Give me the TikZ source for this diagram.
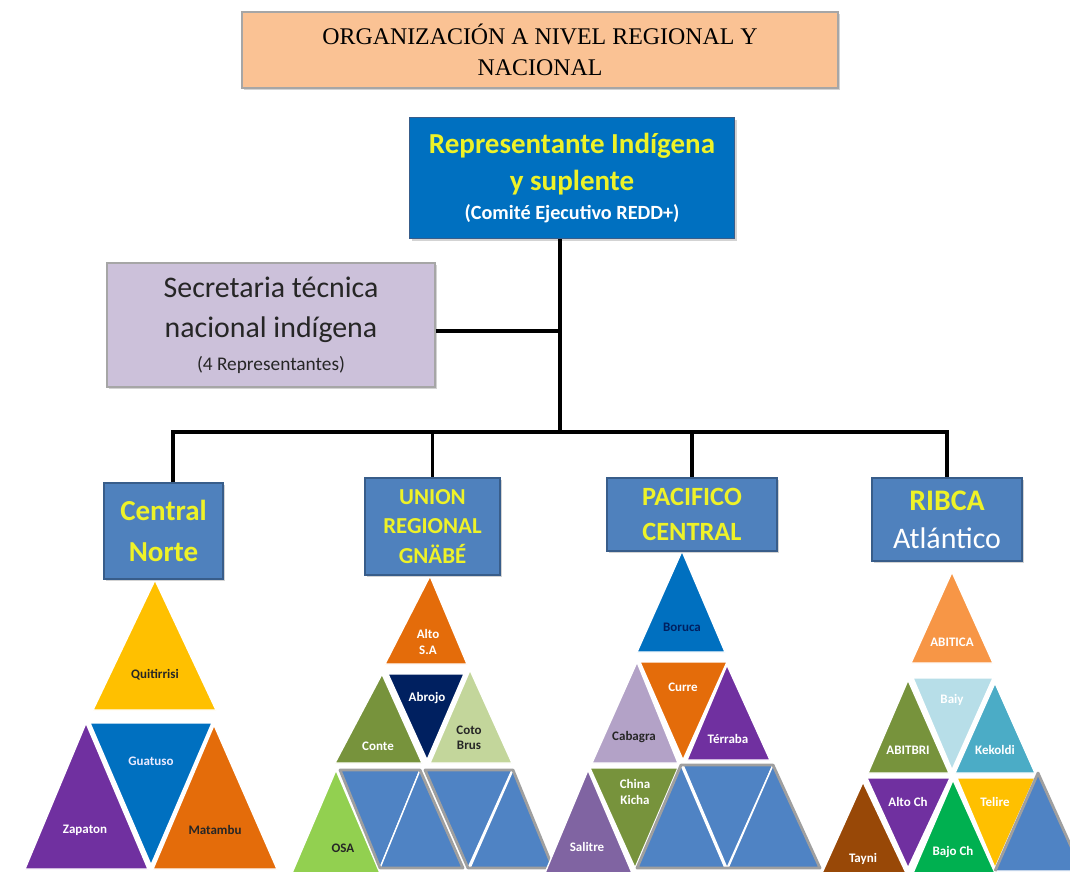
\documentclass[tikz,border=0pt]{standalone}
\usepackage{fontspec}
\setmainfont{Liberation Serif}
\setsansfont{Carlito}
\usepackage{tikz}
\usetikzlibrary{positioning}
\usetikzlibrary{shadows}
\definecolor{peach}{RGB}{250,194,148}
\definecolor{repblue}{RGB}{0,112,192}
\definecolor{lilac}{RGB}{204,193,218}
\definecolor{regblue}{RGB}{79,129,189}
\definecolor{regedge}{RGB}{56,93,138}
\definecolor{txtyellow}{RGB}{238,242,40}
\definecolor{cgold}{RGB}{255,192,0}
\definecolor{cpurple}{RGB}{112,48,160}
\definecolor{corange}{RGB}{228,108,10}
\definecolor{colive}{RGB}{119,147,60}
\definecolor{cnavy}{RGB}{0,32,96}
\definecolor{cpale}{RGB}{195,214,155}
\definecolor{clime}{RGB}{146,208,80}
\definecolor{clav}{RGB}{179,162,199}
\definecolor{cviolet}{RGB}{128,100,162}
\definecolor{capricot}{RGB}{247,150,70}
\definecolor{cice}{RGB}{183,222,232}
\definecolor{cteal}{RGB}{75,172,198}
\definecolor{cbrown}{RGB}{152,72,7}
\definecolor{cgreen}{RGB}{0,176,80}
\definecolor{ghostblue}{RGB}{79,131,196}
\definecolor{darktext}{RGB}{38,38,38}

\tikzset{
  box/.style={rectangle, align=center, inner sep=0pt, line width=0.8pt,
              drop shadow={opacity=0.35, shadow xshift=1.2pt, shadow yshift=-1.2pt}},
  region/.style={box, fill=regblue, draw=regedge, font=\sffamily\bfseries,
                 text=txtyellow},
  conn/.style={draw=black, line width=2.2pt},
  tri/.style={draw=white, line width=0.8pt, line join=round},
  bevel/.style={draw=gray!75, line width=1.6pt, line join=round},
  lbl/.style={font=\sffamily\bfseries\fontsize{7.4}{8.8}\selectfont,
              align=center, inner sep=0pt, text=white},
  dark/.style={text=darktext}
}
\newcommand{\tri}[4]{\filldraw[tri, fill=#1] (#2) -- (#3) -- (#4) -- cycle;}

\begin{document}
\begin{tikzpicture}[x=0.02cm, y=-0.02cm]
  \useasboundingbox (0,0) rectangle (1070,871);
  \clip (0,0) rectangle (1070,871);

  % Central Norte
  \tri{cgold}{155,580}{93,710}{216,710}
  \tri{cpurple}{86,723}{25,869}{148,869}
  \tri{repblue}{90,723}{212,723}{151,865}
  \tri{corange}{214,725}{153,869}{277,869}
  \node[lbl, dark] (quit) at (155,675) {Quitirrisi};
  \node[lbl] (zap) at (85,830) {Zapaton};
  \node[lbl, text=blue!8] (gua) at (151,761) {Guatuso};
  \node[lbl, dark] (mat) at (215,830) {Matambu};

  % Union Regional Gnabe
  \tri{corange}{430,576}{385,664}{467,664}
  \tri{colive}{382,674}{335,763}{422,763}
  \tri{cnavy}{388,674}{464,674}{427,760}
  \tri{cpale}{470,670}{430,763}{512,763}
  \tri{clime}{336,770}{292,873}{380,873}
  \tri{ghostblue}{340,770}{420,770}{380,868}
  \tri{ghostblue}{420,770}{380,868}{463,868}
  \tri{ghostblue}{425,770}{512,770}{468,868}
  \tri{ghostblue}{513,770}{470,868}{553,868}
  \draw[bevel] (340,770) -- (420,770) -- (463,868) -- (380,868) -- cycle;
  \draw[bevel] (425,770) -- (513,770) -- (553,868) -- (468,868) -- cycle;
  \node[lbl] (alto) at (428,642) {Alto\\S.A};
  \node[lbl] (conte) at (378,746) {Conte};
  \node[lbl] (abrojo) at (427,698) {Abrojo};
  \node[lbl, dark] (coto) at (469,738) {Coto\\Brus};
  \node[lbl, dark] (osa) at (343,848) {OSA};

  % Pacifico Central
  \tri{repblue}{682,551}{637,652}{725,652}
  \tri{clav}{637,662}{592,763}{678,763}
  \tri{corange}{640,662}{727,662}{683,760}
  \tri{cpurple}{727,665}{687,760}{770,760}
  \tri{cviolet}{588,770}{545,873}{632,873}
  \tri{colive}{590,768}{678,768}{635,868}
  \tri{ghostblue}{681,765}{637,868}{725,868}
  \tri{ghostblue}{683,765}{773,765}{727,868}
  \tri{ghostblue}{773,765}{728,868}{820,868}
  \draw[bevel] (681,765) -- (773,765) -- (820,868) -- (637,868) -- cycle;
  \node[lbl, text=cnavy] (boruca) at (682,627) {Boruca};
  \node[lbl, dark] (cabagra) at (634,737) {Cabagra};
  \node[lbl] (curre) at (683,687) {Curre};
  \node[lbl] (terraba) at (728,739) {Térraba};
  \node[lbl] (salitre) at (587,847) {Salitre};
  \node[lbl] (china) at (635,792) {China\\Kicha};

  % RIBCA Atlantico
  \tri{capricot}{952,572}{911,663}{993,663}
  \tri{colive}{908,680}{868,773}{949,773}
  \tri{cice}{913,678}{993,678}{952,770}
  \tri{cteal}{995,683}{955,773}{1035,773}
  \tri{cbrown}{863,782}{822,873}{906,873}
  \tri{cpurple}{867,778}{950,778}{908,868}
  \tri{cgreen}{953,780}{913,873}{995,873}
  \tri{cgold}{957,778}{1035,778}{995,868}
  \tri{ghostblue}{1038,773}{995,871}{1082,871}
  \draw[bevel] (995,871) -- (1038,773) -- (1082,871);
  \node[lbl] (abitica) at (952,642) {ABITICA};
  \node[lbl] (abitbri) at (908,750) {ABITBRI};
  \node[lbl] (baiy) at (952,700) {Baiy};
  \node[lbl] (kekoldi) at (995,750) {Kekoldi};
  \node[lbl] (tayni) at (863,859) {Tayni};
  \node[lbl] (altoch) at (908,802) {Alto Ch};
  \node[lbl] (bajoch) at (953,852) {Bajo Ch};
  \node[lbl] (telire) at (995,802) {Telire};

  % boxes
  \node[box, fill=peach, draw=gray!70, minimum width=11.92cm, minimum height=1.52cm,
        font=\fontsize{13.6}{17.6}\selectfont] (title) at (540,50)
        {ORGANIZACIÓN A NIVEL REGIONAL Y\\NACIONAL};
  \node[box, fill=repblue, draw=regedge, minimum width=6.5cm, minimum height=2.42cm,
        font=\sffamily\bfseries\fontsize{16.5}{21.5}\selectfont, text=txtyellow] (rep) at (572,178)
        {Representante Indígena\\y suplente\\[-5pt]
         {\fontsize{11.5}{14}\selectfont\color{white}(Comité Ejecutivo REDD+)}};
  \node[box, fill=lilac, draw=gray!70, minimum width=6.56cm, minimum height=2.48cm,
        font=\sffamily\fontsize{17}{22.8}\selectfont, text=darktext] (sec) at (271,325)
        {Secretaria técnica\\nacional indígena\\[-4pt]
         {\fontsize{11}{13}\selectfont(4 Representantes)}};
  \node[region, minimum width=2.38cm, minimum height=1.92cm,
        font=\sffamily\bfseries\fontsize{16.5}{23}\selectfont] (cn) at (163.5,531)
        {Central\\Norte};
  \node[region, minimum width=2.7cm, minimum height=1.94cm,
        font=\sffamily\bfseries\fontsize{13}{17}\selectfont] (urg) at (432.5,526.5)
        {UNION\\REGIONAL\\GNÄBÉ};
  \node[region, minimum width=3.4cm, minimum height=1.46cm,
        font=\sffamily\bfseries\fontsize{15}{20}\selectfont] (pc) at (692,514.5)
        {PACIFICO\\CENTRAL};
  \node[region, minimum width=3cm, minimum height=1.66cm,
        font=\sffamily\fontsize{17}{21.6}\selectfont] (rb) at (947,519.5)
        {{\bfseries RIBCA}\\{\color{white}Atlántico}};

  % connectors
  \coordinate (hub) at (560,331);
  \coordinate (bus) at (560,432);
  \coordinate (d1) at (173,432);
  \coordinate (d2) at (432.5,432);
  \coordinate (d3) at (692,432);
  \coordinate (d4) at (947,432);
  \draw[conn] (rep.south -| bus) -- (bus);
  \draw[conn] (hub -| sec.east) -- (hub);
  \draw[conn] (d1 |- cn.north) -- (d1) -- (d4) -- (d4 |- rb.north);
  \draw[conn] (d2) -- (urg.north);
  \draw[conn] (d3) -- (pc.north);
\end{tikzpicture}
\end{document}
